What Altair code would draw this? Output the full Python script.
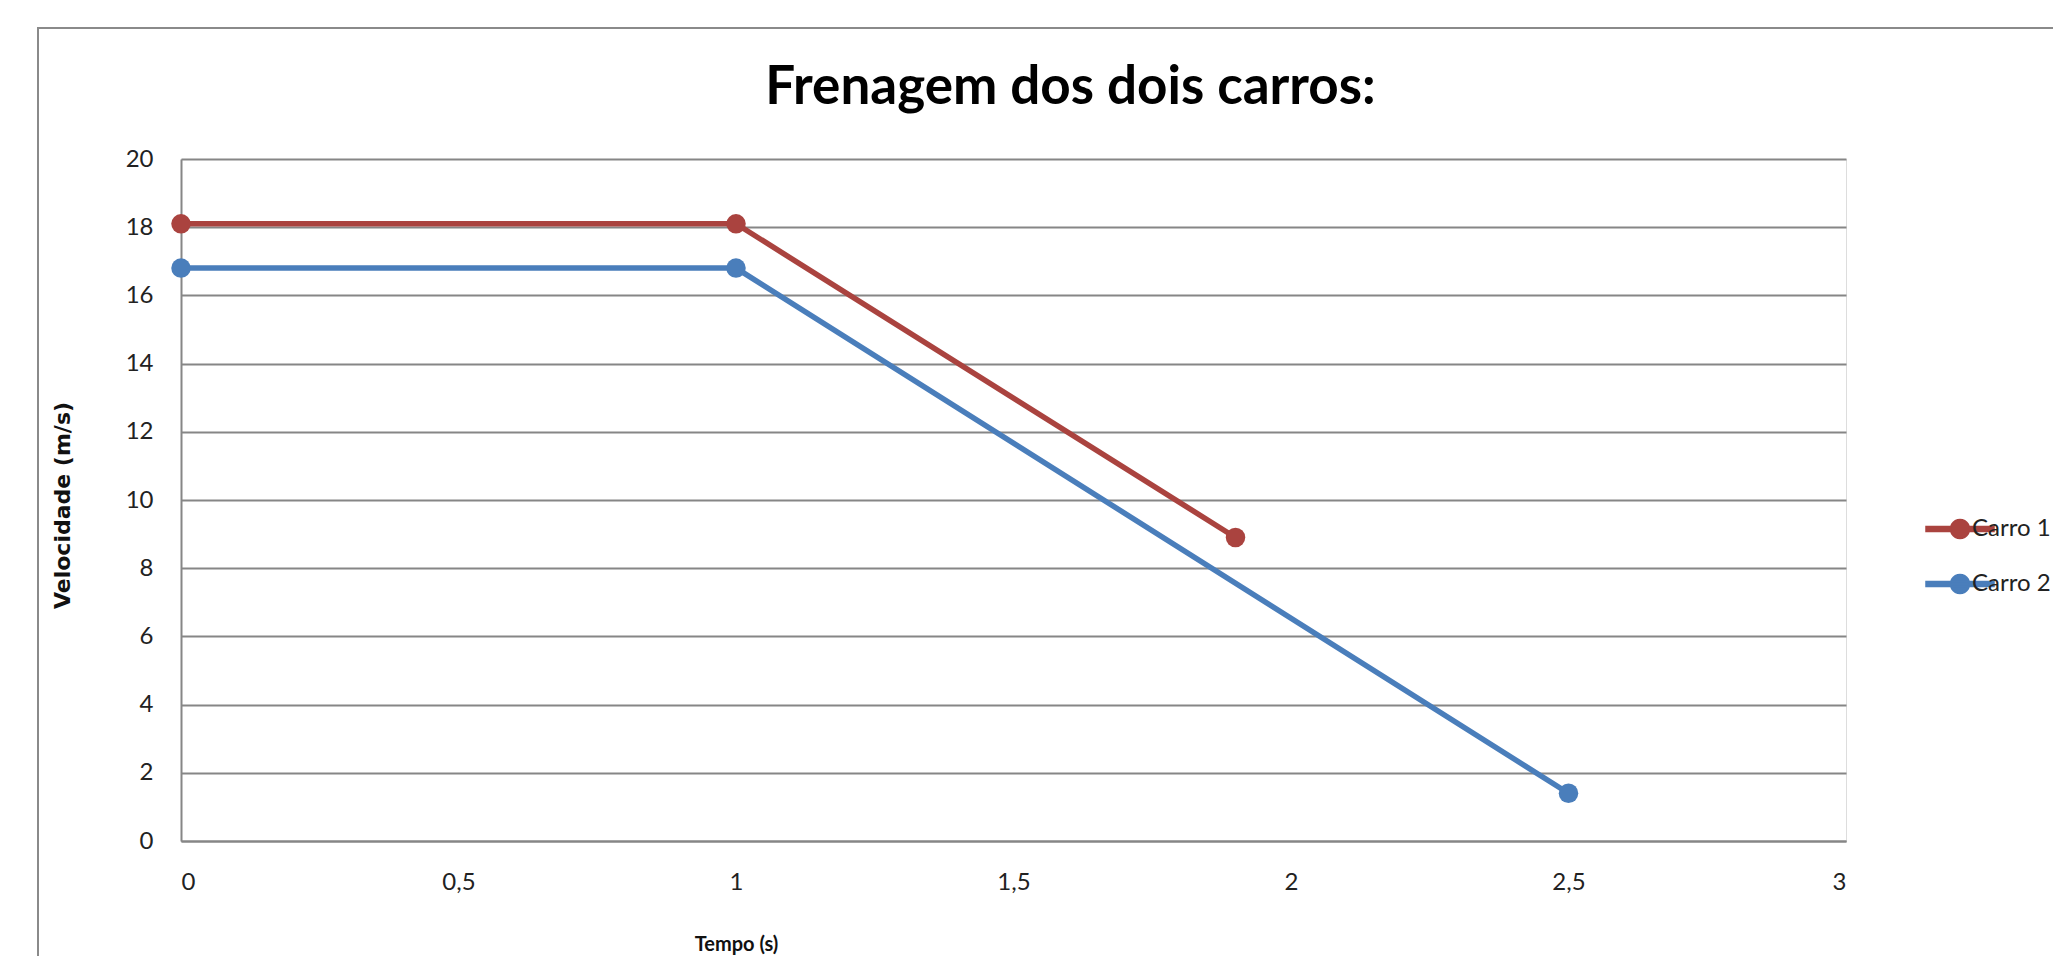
import math
import altair as alt
import pandas as pd

# ---- data ----
series_names = ["Carro 1", "Carro 2"]
tempo_carro1 = [0, 1, 1.9]
vel_carro1 = [18.1, 18.1, 8.9]
tempo_carro2 = [0, 1, 2.5]
vel_carro2 = [16.8, 16.8, 1.4]
x_ticks = [0, 0.5, 1, 1.5, 2, 2.5, 3]
y_ticks = [0, 2, 4, 6, 8, 10, 12, 14, 16, 18, 20]

series_colors = ["#AA433F", "#4A7EBB"]

rows = []
for t, v in zip(tempo_carro1, vel_carro1):
    rows.append({"carro": series_names[0], "tempo": t, "vel": v})
for t, v in zip(tempo_carro2, vel_carro2):
    rows.append({"carro": series_names[1], "tempo": t, "vel": v})
df = pd.DataFrame(rows)

W, H = 1665, 682
GRID = "#868686"

x_enc = alt.X(
    "tempo:Q",
    scale=alt.Scale(domain=[0, 3], nice=False, zero=False),
    axis=alt.Axis(
        values=x_ticks,
        labelExpr="replace(toString(datum.value), '.', ',')",
        title="Tempo (s)",
        grid=False,
        ticks=False,
        domainColor=GRID,
        domainWidth=2,
        labelFont="Lato",
        labelFontSize=24,
        labelColor="#222222",
        labelPadding=29,
        titleFont="Lato",
        titleFontSize=20,
        titleFontWeight="bold",
        titleColor="#111111",
        titleX=555,
        titleY=103,
        titleAlign="center",
        titleBaseline="middle",
    ),
)
y_enc = alt.Y(
    "vel:Q",
    scale=alt.Scale(domain=[0, 20], nice=False),
    axis=alt.Axis(
        values=y_ticks,
        title="Velocidade  (m/s)",
        grid=True,
        gridColor=GRID,
        gridWidth=2,
        ticks=False,
        domainColor=GRID,
        domainWidth=2,
        labelFont="Lato",
        labelFontSize=24,
        labelColor="#222222",
        labelPadding=28,
        titleFont="DejaVu Sans",
        titleFontSize=22,
        titleFontWeight="bold",
        titleColor="#111111",
        titleAngle=270,
        titleX=-119,
        titleY=346,
        titleAlign="center",
        titleBaseline="middle",
    ),
)

# legend symbol: a short line with a dot in the middle (unit coordinates)
circle_pts = [
    (0.95 * math.cos(2 * math.pi * k / 24), 0.95 * math.sin(2 * math.pi * k / 24))
    for k in range(24)
]
legend_path = "M-3.4,-0.25L3.4,-0.25L3.4,0.25L-3.4,0.25Z" + "M" + "L".join(
    f"{px:.3f},{py:.3f}" for px, py in circle_pts
) + "Z"

color_scale = alt.Scale(domain=series_names, range=series_colors)
legend = alt.Legend(
    title=None,
    orient="none",
    legendX=1767,
    legendY=358,
    padding=0,
    symbolType=legend_path,
    symbolSize=400,
    symbolOpacity=1,
    labelFont="Lato",
    labelFontSize=24,
    labelColor="#222222",
    labelOffset=0,
    rowPadding=29,
)

base = alt.Chart(df)

lines = base.mark_line(strokeWidth=5.5).encode(
    x=x_enc,
    y=y_enc,
    color=alt.Color("carro:N", scale=color_scale, legend=legend),
)

points = base.mark_point(filled=True, size=380, opacity=1).encode(
    x=x_enc,
    y=y_enc,
    color=alt.Color("carro:N", scale=color_scale, legend=legend),
)

frame = alt.Chart(pd.DataFrame({"k": [0]})).mark_rect(
    filled=False, stroke="#8a8a8a", strokeWidth=2
).encode(
    x=alt.value(-143),
    y=alt.value(-131),
    x2=alt.value(W + 300),
    y2=alt.value(H + 300),
)

chart = (
    alt.layer(frame, lines, points)
    .properties(
        width=W,
        height=H,
        autosize=alt.AutoSizeParams(type="none"),
        padding={"left": 173, "top": 151, "right": 207, "bottom": 115},
        title=alt.TitleParams(
            "Frenagem dos dois carros:",
            font="Lato",
            fontSize=53,
            fontWeight="bold",
            color="#000000",
            anchor="middle",
            frame="group",
            baseline="alphabetic",
            offset=0,
            dx=57,
            dy=130,
        ),
    )
    .configure_view(stroke=None)
    .configure(background="white")
)

chart.save("out.html", embed_options={"renderer": "svg", "actions": False})
